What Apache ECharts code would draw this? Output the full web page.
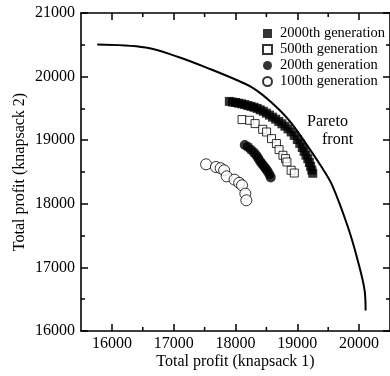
<!DOCTYPE html>
<html>
<head>
<meta charset="utf-8">
<script src="https://cdn.jsdelivr.net/npm/echarts@6/dist/echarts.min.js"></script>
<style>html,body{margin:0;padding:0;background:#fff}#c{width:390px;height:376px}</style>
</head>
<body>
<div id="c"></div>
<script>
// ---- data ----
const xMajorTicks = [16000, 17000, 18000, 19000, 20000];
const xMinorTicks = [16500, 17500, 18500, 19500];

const paretoFront = [
  [15762, 20503], [16546, 20456], [17075, 20308], [17598, 20115], [18027, 19942],
  [18292, 19816], [18583, 19594], [18868, 19313], [19137, 18951], [19375, 18605],
  [19565, 18291], [19819, 17635], [19978, 17110], [20089, 16639], [20105, 16324]
];
const gen2000 = [
  [17900,19610],[17950,19600],[18000,19592],[18050,19582],[18100,19572],[18150,19560],
  [18200,19545],[18250,19532],[18300,19518],[18350,19500],[18400,19478],[18450,19455],
  [18500,19425],[18550,19395],[18600,19362],[18650,19330],[18700,19295],[18750,19258],
  [18800,19220],[18850,19178],[18900,19130],[18950,19075],[19000,19010],[19040,18950],
  [19080,18885],[19110,18825],[19140,18765],[19170,18710],[19195,18650],[19215,18590],
  [19235,18530],[19250,18480]
];
const gen500 = [
  [18106,19324],[18229,19313],[18317,19261],[18440,19171],[18503,19129],[18583,19025],
  [18662,18947],[18705,18852],[18768,18763],[18810,18711],[18832,18657],[18900,18527],
  [18952,18484]
];
const gen200 = [
  [18150,18925],[18200,18895],[18250,18850],[18300,18805],[18340,18760],[18370,18712],
  [18400,18665],[18430,18625],[18460,18590],[18490,18550],[18520,18510],[18550,18460],
  [18570,18415]
];
const gen100 = [
  [17524,18621],[17683,18579],[17760,18560],[17816,18527],[17857,18432],[17984,18380],
  [18060,18330],[18106,18291],[18159,18160],[18175,18055]
];
const seriesNames = ['2000th generation', '500th generation', '200th generation', '100th generation'];

// ---- chart ----
const font = 'Liberation Serif, Times New Roman, serif';
const X_MIN = 15500, X_MAX = 20500, Y_MIN = 16000, Y_MAX = 21000;
const TICK_COLOR = '#000';

function yAx(pos, labels) {
  const a = {
    type: 'value', position: pos, min: Y_MIN, max: Y_MAX, interval: 1000,
    splitLine: {show: false},
    axisLine: {show: true, lineStyle: {color: '#000', width: 1.6}},
    axisTick: {show: true, inside: true, length: 7, lineStyle: {color: TICK_COLOR, width: 1.5}},
    minorTick: {show: true, splitNumber: 2, length: 4, lineStyle: {color: TICK_COLOR, width: 1.5}},
    axisLabel: labels ? {show: true, color: '#000', fontFamily: font, fontSize: 16, margin: 6,
                         formatter: v => String(v)} : {show: false}
  };
  if (labels) {
    a.name = 'Total profit (knapsack 2)';
    a.nameLocation = 'middle';
    a.nameGap = 53;
    a.nameMoveOverlap = false;
    a.nameTextStyle = {color: '#000', fontFamily: font, fontSize: 16};
  }
  return a;
}
function xAx(pos, labels) {
  const a = {
    type: 'value', position: pos, min: X_MIN, max: X_MAX,
    splitLine: {show: false},
    axisLine: {show: true, lineStyle: {color: '#000', width: 1.6}},
    axisTick: {show: true, inside: true, length: 7, customValues: xMajorTicks.slice(), lineStyle: {color: TICK_COLOR, width: 1.5}},
    axisLabel: labels ? {show: true, customValues: xMajorTicks.slice(), color: '#000', fontFamily: font, fontSize: 16, margin: 5,
                         formatter: v => String(v)} : {show: false}
  };
  if (labels) {
    a.name = 'Total profit (knapsack 1)';
    a.nameLocation = 'middle';
    a.nameGap = 23;
    a.nameMoveOverlap = false;
    a.nameTextStyle = {color: '#000', fontFamily: font, fontSize: 16};
  }
  return a;
}
// minor ticks on the bottom and top x axes, placed through the x scale
function minorTickSeries(values, len) {
  return {
    type: 'custom', xAxisIndex: 0, yAxisIndex: 0, silent: true, z: 5, clip: false,
    data: values.map(v => [v, Y_MIN]),
    renderItem: (params, api) => {
      const v = api.value(0);
      const b = api.coord([v, Y_MIN]);
      const t = api.coord([v, Y_MAX]);
      return {type: 'group', children: [
        {type: 'line', shape: {x1: b[0], y1: b[1], x2: b[0], y2: b[1] - len}, style: {stroke: TICK_COLOR, lineWidth: 1.5}},
        {type: 'line', shape: {x1: t[0], y1: t[1], x2: t[0], y2: t[1] + len}, style: {stroke: TICK_COLOR, lineWidth: 1.5}}
      ]};
    }
  };
}

const chart = echarts.init(document.getElementById('c'), null, {renderer: 'canvas'});
chart.setOption({
  animation: false,
  backgroundColor: '#fff',
  grid: {left: 81, top: 13, right: -6, bottom: 45},
  xAxis: [xAx('bottom', true), xAx('top', false)],
  yAxis: [yAx('left', true), yAx('right', false)],
  legend: {
    orient: 'vertical', left: 257, top: 21, itemWidth: 9, itemHeight: 9, itemGap: 1,
    textStyle: {color: '#000', fontFamily: font, fontSize: 14.5, lineHeight: 14, padding: [0, 0, 0, 3]},
    data: seriesNames
  },
  graphic: [
    {type: 'text', left: 307, top: 114, style: {text: 'Pareto', fill: '#000', font: '16px ' + font}},
    {type: 'text', left: 322, top: 132, style: {text: 'front', fill: '#000', font: '16px ' + font}}
  ],
  series: [
    {name: 'Pareto front', type: 'line', data: paretoFront, smooth: 0.35,
     showSymbol: false, symbol: 'none', lineStyle: {color: '#000', width: 2}, z: 1},
    {name: seriesNames[0], type: 'scatter', data: gen2000, symbol: 'rect', symbolSize: 9,
     itemStyle: {color: '#000'}, z: 3},
    {name: seriesNames[1], type: 'scatter', data: gen500, symbol: 'rect', symbolSize: 8,
     itemStyle: {color: '#fff', borderColor: '#000', borderWidth: 1}, z: 3},
    {name: seriesNames[2], type: 'scatter', data: gen200, symbol: 'circle', symbolSize: 10,
     itemStyle: {color: '#000'}, z: 3},
    {name: seriesNames[3], type: 'scatter', data: gen100, symbol: 'circle', symbolSize: 11,
     itemStyle: {color: '#fff', borderColor: '#000', borderWidth: 1}, z: 3},
    minorTickSeries(xMinorTicks, 4)
  ]
});
</script>
</body>
</html>
